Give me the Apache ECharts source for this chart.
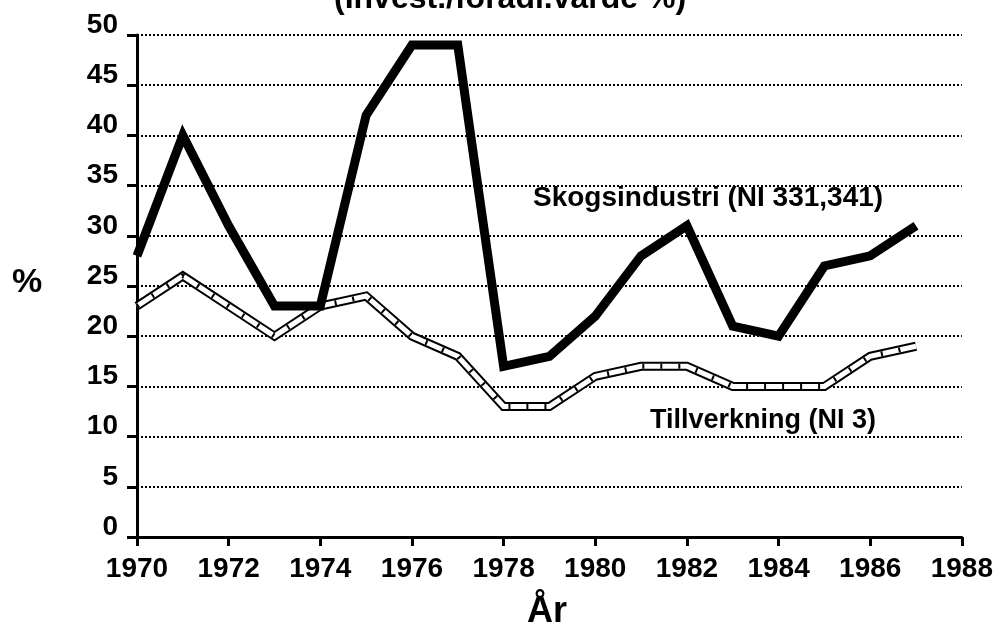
<!DOCTYPE html>
<html>
<head>
<meta charset="utf-8">
<script src="https://cdn.jsdelivr.net/npm/echarts@6/dist/echarts.min.js"></script>
<style>
  html, body { margin: 0; padding: 0; background: #fff; }
  #chart { width: 996px; height: 628px; }
</style>
</head>
<body>
<div id="chart"></div>
<script>
  // år och värden
  var years = [1970, 1971, 1972, 1973, 1974, 1975, 1976, 1977, 1978, 1979, 1980, 1981, 1982, 1983, 1984, 1985, 1986, 1987];
  var skogsindustri = [28, 40, 31, 23, 23, 42, 49, 49, 17, 18, 22, 28, 31, 21, 20, 27, 28, 31];
  var tillverkning = [23, 26, 23, 20, 23, 24, 20, 18, 13, 13, 16, 17, 17, 15, 15, 15, 18, 19];

  var font = '"Liberation Sans", Arial, sans-serif';

  function pairs(vals) {
    return vals.map(function (v, i) { return [years[i], v]; });
  }

  var myChart = echarts.init(document.getElementById('chart'));
  myChart.setOption({
    animation: false,
    backgroundColor: '#fff',
    // rutnätets läge
    grid: { left: 137, right: 34, top: 35, bottom: 91 },
    xAxis: {
      type: 'value',
      min: 1970,
      max: 1988,
      interval: 2,
      axisLine: { lineStyle: { color: '#000', width: 3 } },
      axisTick: { show: true, length: 9, lineStyle: { color: '#000', width: 3 } },
      axisLabel: {
        color: '#000',
        fontFamily: font,
        fontWeight: 'bold',
        fontSize: 28,
        margin: 18,
        formatter: function (v) { return String(v); }
      },
      splitLine: { show: false }
    },
    yAxis: {
      type: 'value',
      min: 0,
      max: 50,
      interval: 5,
      axisLine: { show: true, lineStyle: { color: '#000', width: 3 } },
      axisTick: { show: true, length: 10, lineStyle: { color: '#000', width: 3 } },
      axisLabel: {
        color: '#000',
        fontFamily: font,
        fontWeight: 'bold',
        fontSize: 28,
        margin: 19,
        verticalAlign: 'bottom',
        lineHeight: 20
      },
      splitLine: { show: true, lineStyle: { color: '#000', type: [2, 2], width: 2 } }
    },
    series: [
      {
        name: 'Tillverkning (NI 3)',
        type: 'line',
        data: pairs(tillverkning),
        symbol: 'none',
        z: 3,
        lineStyle: { color: '#000', width: 9, join: 'miter' }
      },
      {
        name: 'Tillverkning inner',
        type: 'line',
        data: pairs(tillverkning),
        symbol: 'none',
        z: 4,
        lineStyle: { color: '#fff', width: 5, join: 'miter' }
      },
      {
        name: 'Tillverkning streck',
        type: 'line',
        data: pairs(tillverkning),
        symbol: 'none',
        z: 5,
        lineStyle: { color: '#000', width: 5, type: [2, 16], join: 'miter' }
      },
      {
        name: 'Skogsindustri (NI 331,341)',
        type: 'line',
        data: pairs(skogsindustri),
        symbol: 'none',
        z: 6,
        lineStyle: { color: '#000', width: 9, join: 'miter' }
      }
    ],
    graphic: [
      {
        type: 'text', left: 334, top: -17, z: 10,
        style: { text: '(Invest./förädl.värde %)', fill: '#000', font: 'bold 32px ' + font }
      },
      {
        type: 'text', left: 533, top: 184, z: 10,
        style: { text: 'Skogsindustri (NI 331,341)', fill: '#000', font: 'bold 28px ' + font }
      },
      {
        type: 'text', left: 650, top: 407, z: 10,
        style: { text: 'Tillverkning (NI 3)', fill: '#000', font: 'bold 27px ' + font }
      },
      {
        type: 'text', left: 12, top: 266, z: 10,
        style: { text: '%', fill: '#000', font: 'bold 34px ' + font }
      },
      {
        type: 'text', left: 527, top: 594, z: 10,
        style: { text: 'År', fill: '#000', font: 'bold 36px ' + font }
      }
    ]
  });
</script>
</body>
</html>
